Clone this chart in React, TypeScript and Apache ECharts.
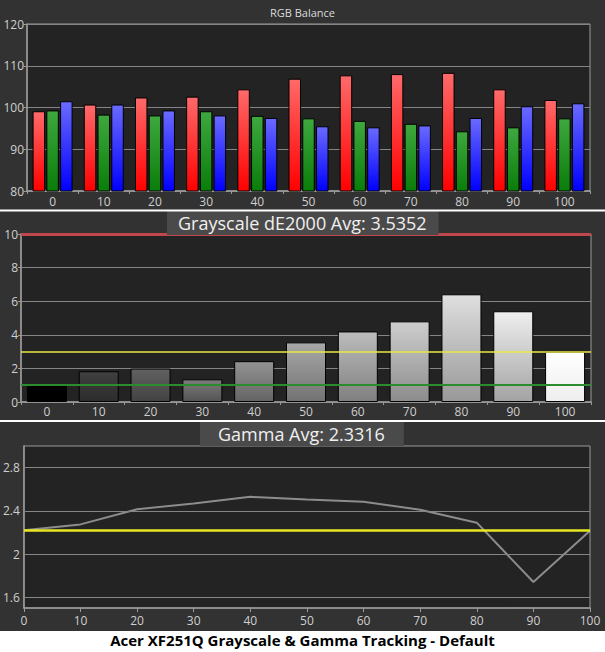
import React, { useEffect, useRef } from "react";
import * as echarts from "echarts";

const categories = ["0", "10", "20", "30", "40", "50", "60", "70", "80", "90", "100"];
const redValues = [99.1, 100.7, 102.4, 102.6, 104.35, 106.9, 107.7, 108.0, 108.3, 104.35, 101.8];
const greenValues = [99.3, 98.3, 98.1, 99.1, 98.0, 97.4, 96.8, 96.1, 94.3, 95.25, 97.4];
const blueValues = [101.5, 100.7, 99.3, 98.1, 97.5, 95.5, 95.25, 95.7, 97.5, 100.3, 101.0];
const deltaE = [0.95, 1.83, 1.99, 1.35, 2.43, 3.55, 4.2, 4.8, 6.41, 5.4, 2.99];
const deLimits = { red: 10, yellow: 3, green: 1 };
const gammaX = [0, 10, 20, 30, 40, 50, 60, 70, 80, 90, 100];
const gammaValues = [2.22, 2.274, 2.415, 2.467, 2.529, 2.504, 2.483, 2.41, 2.29, 1.741, 2.216];
const gammaTarget = 2.22;
const gammaLabels = [1.6, 2, 2.4, 2.8];
const rgbTitle = "RGB Balance";
const deTitle = "Grayscale dE2000 Avg: 3.5352";
const gammaTitle = "Gamma Avg: 2.3316";
const mainTitle = "Acer XF251Q Grayscale & Gamma Tracking - Default";

const FONT = "'Open Sans', 'Noto Sans', sans-serif";
const LABEL = "#cfcfcf";
const AXIS = "#9a9a9a";
const GRID = "#858585";

function grad(top: string, bottom: string) {
  return new echarts.graphic.LinearGradient(0, 0, 0, 1, [
    { offset: 0, color: top },
    { offset: 1, color: bottom },
  ]);
}

function grayAt(i: number, n: number) {
  const t = i / (n - 1);
  const v = Math.round(255 * Math.pow(t, 0.6));
  const b = i === n - 1 ? 238 : Math.round(v * 0.68);
  const h = (x: number) => x.toString(16).padStart(2, "0");
  return grad("#" + h(v) + h(v) + h(v), "#" + h(b) + h(b) + h(b));
}

export default function App() {
  const ref = useRef<HTMLDivElement>(null);
  useEffect(() => {
    document.body.style.margin = "0";
    const chart = echarts.init(ref.current!, undefined, { renderer: "svg" });
    const axisLabel = { color: LABEL, fontSize: 12, fontFamily: FONT };
    const catAxis = (gi: number, margin: number) => ({
      type: "category",
      gridIndex: gi,
      data: categories,
      axisLine: { lineStyle: { color: AXIS, width: 1.5 } },
      axisTick: { show: true, length: 3, lineStyle: { color: AXIS } },
      axisLabel: { ...axisLabel, margin },
    });
    const option: any = {
      animation: false,
      backgroundColor: "#323232",
      title: [
        {
          text: rgbTitle,
          left: "center",
          top: 7,
          padding: 0,
          textStyle: { color: "#dcdcdc", fontSize: 11, fontWeight: "normal", fontFamily: FONT },
        },
        {
          text: deTitle,
          left: 167,
          top: 211,
          padding: [1, 12, 2, 11],
          backgroundColor: "#4a4a4a",
          textStyle: { color: "#f0f0f0", fontSize: 18, fontWeight: "normal", fontFamily: FONT, lineHeight: 21 },
        },
        {
          text: gammaTitle,
          left: 200,
          top: 422,
          padding: [1, 19, 2, 18],
          backgroundColor: "#4a4a4a",
          textStyle: { color: "#f0f0f0", fontSize: 18, fontWeight: "normal", fontFamily: FONT, lineHeight: 21 },
        },
        {
          text: mainTitle,
          left: "center",
          top: 632,
          padding: 0,
          textStyle: { color: "#000", fontSize: 15, fontWeight: "bold", fontFamily: FONT },
        },
      ],
      graphic: [
        { type: "rect", shape: { x: 0, y: 209.5, width: 605, height: 2 }, style: { fill: "#ffffff" }, z: 10 },
        { type: "rect", shape: { x: 0, y: 420, width: 605, height: 2 }, style: { fill: "#ffffff" }, z: 10 },
        { type: "rect", shape: { x: 0, y: 631, width: 605, height: 21 }, style: { fill: "#ffffff" }, z: -1 },
      ],
      grid: [
        { left: 27, right: 15, top: 24, height: 167, show: true, backgroundColor: "#232323", borderColor: AXIS, borderWidth: 1 },
        { left: 21, right: 14, top: 234, height: 168, show: true, backgroundColor: "#232323", borderColor: AXIS, borderWidth: 1 },
        { left: 23, right: 15, top: 446, height: 162, show: true, backgroundColor: "#232323", borderColor: AXIS, borderWidth: 1 },
      ],
      xAxis: [
        catAxis(0, 4),
        catAxis(1, 3),
        {
          type: "value",
          gridIndex: 2,
          min: 0,
          max: 100,
          interval: 10,
          axisLine: { show: true, lineStyle: { color: AXIS, width: 1.5 } },
          axisTick: { show: true, length: 4, lineStyle: { color: AXIS } },
          axisLabel: { ...axisLabel, margin: 6 },
          splitLine: { show: false },
        },
      ],
      yAxis: [
        {
          type: "value",
          gridIndex: 0,
          min: 80,
          max: 120,
          interval: 10,
          axisLine: { show: true, lineStyle: { color: AXIS, width: 1.5 } },
          axisTick: { show: true, length: 3, lineStyle: { color: AXIS } },
          axisLabel: { ...axisLabel, margin: 3 },
          splitLine: { lineStyle: { color: GRID, width: 1 } },
        },
        {
          type: "value",
          gridIndex: 1,
          min: 0,
          max: 10,
          interval: 2,
          axisLine: { show: true, lineStyle: { color: AXIS, width: 1.5 } },
          axisTick: { show: true, length: 3, lineStyle: { color: AXIS } },
          axisLabel: { ...axisLabel, margin: 3 },
          splitLine: { lineStyle: { color: GRID, width: 1 } },
        },
        {
          type: "value",
          gridIndex: 2,
          min: 1.5,
          max: 3.0,
          interval: 0.1,
          axisLine: { show: true, lineStyle: { color: AXIS, width: 1.5 } },
          axisTick: { show: false },
          axisLabel: {
            ...axisLabel,
            margin: 4,
            formatter: (v: number) => {
              const r = Math.round(v * 10) / 10;
              return gammaLabels.indexOf(r) >= 0 ? String(r) : "";
            },
          },
          splitLine: { show: false },
        },
      ],
      series: [
        {
          type: "bar",
          xAxisIndex: 0,
          yAxisIndex: 0,
          data: redValues,
          barWidth: 12.5,
          barGap: "10%",
          itemStyle: { color: grad("#ff6a6a", "#ff0000"), borderColor: "#000", borderWidth: 1 },
        },
        {
          type: "bar",
          xAxisIndex: 0,
          yAxisIndex: 0,
          data: greenValues,
          barWidth: 12.5,
          barGap: "10%",
          itemStyle: { color: grad("#3ea83e", "#0a7d0a"), borderColor: "#000", borderWidth: 1 },
        },
        {
          type: "bar",
          xAxisIndex: 0,
          yAxisIndex: 0,
          data: blueValues,
          barWidth: 12.5,
          barGap: "10%",
          itemStyle: { color: grad("#6a6aff", "#0000ff"), borderColor: "#000", borderWidth: 1 },
        },
        {
          type: "bar",
          xAxisIndex: 1,
          yAxisIndex: 1,
          barWidth: 40,
          data: deltaE.map((v, i) => ({
            value: v,
            itemStyle: { color: grayAt(i, deltaE.length), borderColor: "#000", borderWidth: 1 },
          })),
          markLine: {
            silent: true,
            symbol: "none",
            label: { show: false },
            data: [
              { yAxis: deLimits.red, lineStyle: { color: "#c0484c", width: 3, type: "solid" } },
              { yAxis: deLimits.yellow, lineStyle: { color: "#e8e840", width: 1.5, type: "solid" } },
              { yAxis: deLimits.green, lineStyle: { color: "#2e8a2e", width: 2, type: "solid" } },
            ],
          },
        },
        {
          type: "line",
          xAxisIndex: 2,
          yAxisIndex: 2,
          data: gammaX.map((x, i) => [x, gammaValues[i]]),
          symbol: "none",
          lineStyle: { color: "#8c8c8c", width: 2 },
          z: 3,
          markLine: {
            silent: true,
            symbol: "none",
            label: { show: false },
            data: [
              ...gammaLabels.map((g) => ({ yAxis: g, lineStyle: { color: GRID, width: 1, type: "solid" } })),
              { yAxis: gammaTarget, lineStyle: { color: "#e8e820", width: 2.5, type: "solid" } },
            ],
          },
        },
      ],
    };
    chart.setOption(option);
    return () => chart.dispose();
  }, []);
  return <div ref={ref} style={{ width: 605, height: 652 }} />;
}
